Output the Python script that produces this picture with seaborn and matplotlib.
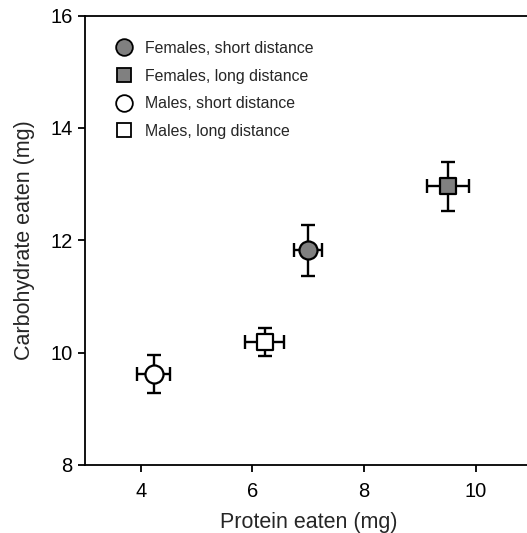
import matplotlib
matplotlib.use("Agg")
import matplotlib.pyplot as plt
import seaborn as sns
import pandas as pd
from matplotlib.lines import Line2D

groups = ["Females, short distance", "Females, long distance",
          "Males, short distance", "Males, long distance"]
protein = [7.0, 9.5, 4.23, 6.22]
carb = [11.82, 12.96, 9.62, 10.19]
protein_err = [0.25, 0.38, 0.30, 0.35]
carb_err = [0.45, 0.44, 0.34, 0.25]
fills = ["#808080", "#808080", "#ffffff", "#ffffff"]
marker_shapes = ["o", "s", "o", "s"]
x_ticks = [4, 6, 8, 10]
y_ticks = [8, 10, 12, 14, 16]

df = pd.DataFrame({"group": groups, "protein": protein, "carb": carb,
                   "perr": protein_err, "cerr": carb_err})

sns.set_style("ticks")
plt.rcParams["font.family"] = ["Liberation Sans", "DejaVu Sans"]

fig = plt.figure(figsize=(5.27, 5.33), dpi=100)
ax = fig.add_axes([0.1613, 0.1276, 0.8474, 0.8433])

ax.errorbar(df["protein"], df["carb"], xerr=df["perr"], yerr=df["cerr"],
            fmt="none", ecolor="black", elinewidth=1.7, capsize=5.2,
            capthick=1.7, zorder=2)

sizes = {"o": 13, "s": 11.5}
for g, m, f in zip(groups, marker_shapes, fills):
    sub = df[df["group"] == g]
    sns.scatterplot(data=sub, x="protein", y="carb", ax=ax, marker=m,
                    s=sizes[m] ** 2, color=f, edgecolor="black",
                    linewidth=1.6, zorder=3, legend=False)

ax.set_xlim(3, 11)
ax.set_ylim(8, 16)
ax.set_xticks(x_ticks)
ax.set_yticks(y_ticks)
ax.tick_params(axis="both", labelsize=14.5, length=5, width=1.3,
               direction="out", colors="black", pad=4)
ax.tick_params(axis="x", pad=7)
for s in ["left", "bottom", "top", "right"]:
    ax.spines[s].set_linewidth(1.3)
    ax.spines[s].set_color("black")
ax.set_xlabel("Protein eaten (mg)", fontsize=15.5, labelpad=8)
ax.set_ylabel("Carbohydrate eaten (mg)", fontsize=15.5, labelpad=11)

handles = []
for g, m, f in zip(groups, marker_shapes, fills):
    handles.append(Line2D([], [], linestyle="none", marker=m,
                          markersize=12 if m == "o" else 10.5,
                          markerfacecolor=f, markeredgecolor="black",
                          markeredgewidth=1.3, label=g))
ax.legend(handles=handles, loc="upper left", frameon=False, fontsize=11.4,
          bbox_to_anchor=(0.037, 0.975), handletextpad=0.85,
          labelspacing=0.8, handlelength=1.0)

fig.savefig("out.png", dpi=100)
